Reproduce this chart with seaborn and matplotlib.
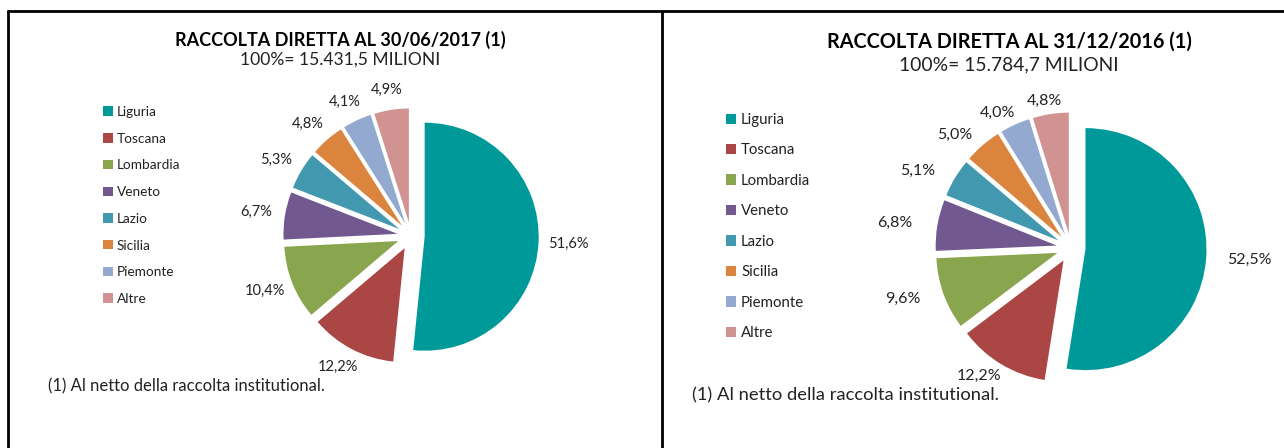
import matplotlib
matplotlib.use("Agg")
import matplotlib.pyplot as plt
from matplotlib.lines import Line2D
import seaborn as sns

# data
regioni = ["Liguria", "Toscana", "Lombardia", "Veneto", "Lazio", "Sicilia", "Piemonte", "Altre"]
quote_2017 = [51.6, 12.2, 10.4, 6.7, 5.3, 4.8, 4.1, 4.9]
quote_2016 = [52.5, 12.2, 9.6, 6.8, 5.1, 5.0, 4.0, 4.8]
titolo_2017 = "RACCOLTA DIRETTA AL 30/06/2017 (1)"
titolo_2016 = "RACCOLTA DIRETTA AL 31/12/2016 (1)"
totale_2017 = "100%= 15.431,5 MILIONI"
totale_2016 = "100%= 15.784,7 MILIONI"
nota = "(1) Al netto della raccolta institutional."

colori = sns.color_palette(["#009999", "#AA4643", "#89A54E", "#71588F",
                            "#4198AF", "#DB843D", "#93A9CF", "#D19392"])

W, H = 1284, 448

sns.set_theme(style="white")
plt.rcParams["font.family"] = ["Lato", "DejaVu Sans"]
plt.rcParams["text.color"] = "#222222"

fig = plt.figure(figsize=(W / 100, H / 100), dpi=100)


def fx(x):
    return x / W


def fy(y):
    return 1 - y / H


def fmt_pct(p):
    return f"{p:.1f}%".replace(".", ",")


def draw_panel(valori, titolo, totale, cx, cy, r, s, pdist, kx, leg_x, leg_y, leg_sp,
               title_x, title_y, sub_y, nota_x, nota_y):
    half = 1.9 * r
    ax = fig.add_axes([fx(cx - half), fy(cy + half), 2 * half / W, 2 * half / H])
    wedges, _, autotexts = ax.pie(
        valori, colors=colori, startangle=90, counterclock=False,
        explode=[0.12] * len(valori), autopct=fmt_pct, pctdistance=pdist,
        wedgeprops=dict(linewidth=0), textprops=dict(fontsize=10.5 * s, color="#222222"),
    )
    # labels sit a bit wider on the sides, like the excel layout
    for t in autotexts:
        x, y = t.get_position()
        t.set_position((x * kx, y))
    ax.set_xlim(-1.9, 1.9)
    ax.set_ylim(-1.9, 1.9)
    ax.axis("off")

    ax.legend(wedges, regioni, loc="upper left", bbox_to_anchor=(fx(leg_x), fy(leg_y)),
              bbox_transform=fig.transFigure, frameon=False,
              handlelength=0.7, handleheight=0.7, handletextpad=0.3,
              labelspacing=leg_sp, borderpad=0, borderaxespad=0, fontsize=9.8 * s)

    fig.text(fx(title_x), fy(title_y), titolo, ha="center", va="center",
             fontsize=13 * s, fontweight="bold", color="black")
    fig.text(fx(title_x), fy(sub_y), totale, ha="center", va="center", fontsize=12.6 * s)
    fig.text(fx(nota_x), fy(nota_y), nota, ha="left", va="center", fontsize=12 * s)


draw_panel(quote_2017, titolo_2017, totale_2017, 411, 236, 114, 1.0, 1.18, 1.06,
           103, 106, 1.08, 340, 40, 60, 48, 386)
draw_panel(quote_2016, titolo_2016, totale_2016, 1071, 248, 121, 1.1, 1.11, 1.2,
           726, 113, 1.1, 1009, 42, 65, 692, 395)

# panel borders
lw = 2.0
fig.add_artist(Line2D([fx(8), 1], [fy(11), fy(11)], color="black", lw=lw))
fig.add_artist(Line2D([fx(8), fx(8)], [fy(11), 0], color="black", lw=lw))
fig.add_artist(Line2D([fx(662), fx(662)], [fy(11), 0], color="black", lw=lw))

fig.savefig("out.png", dpi=100, facecolor="white")
